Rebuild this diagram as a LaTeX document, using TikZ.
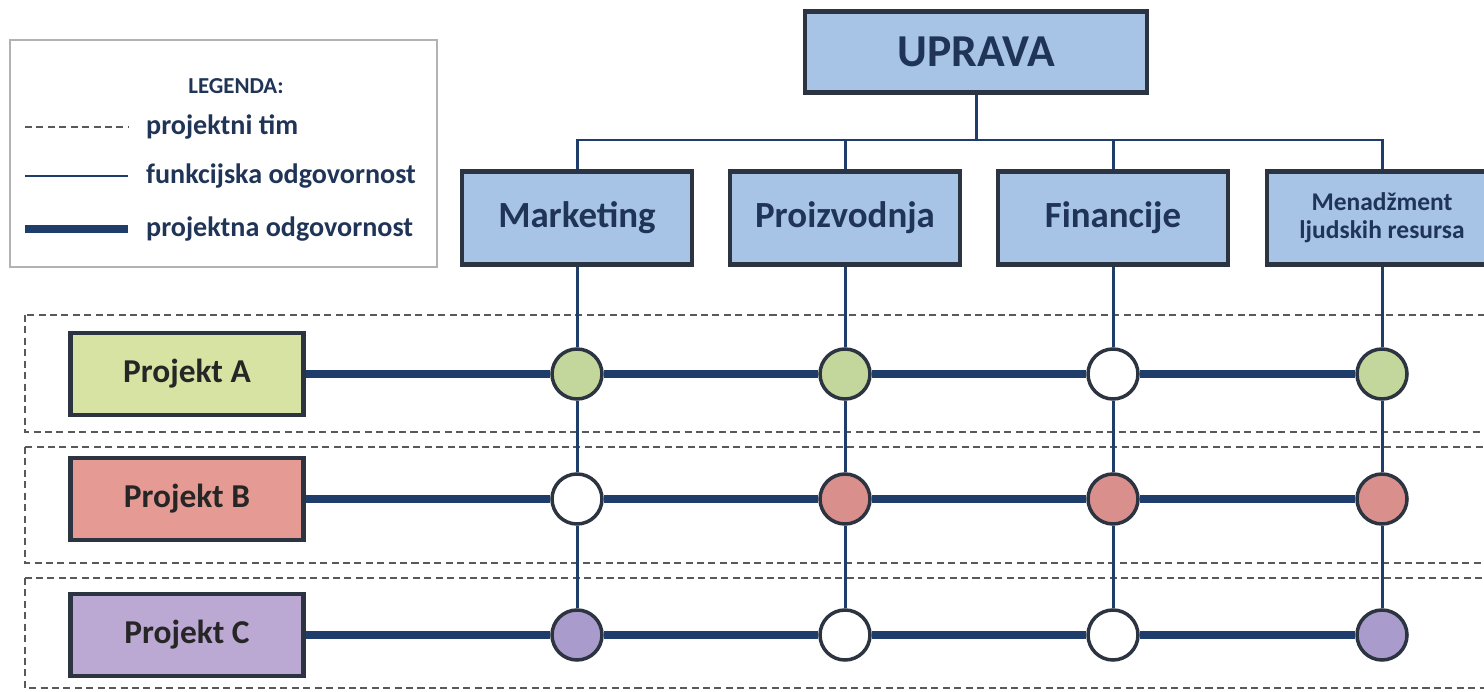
\documentclass[tikz,border=0pt]{standalone}
\usepackage{fontspec}
\setmainfont{Carlito}
\usetikzlibrary{positioning}

\definecolor{navy}{HTML}{1F3D6B}
\definecolor{boxblue}{HTML}{A7C3E6}
\definecolor{inkblue}{HTML}{1F3456}
\definecolor{edge}{HTML}{2B3440}
\definecolor{projA}{HTML}{D6E3A2}
\definecolor{projB}{HTML}{E59A94}
\definecolor{projC}{HTML}{BBA8D3}
\definecolor{dotA}{HTML}{C3D69B}
\definecolor{dotB}{HTML}{D98F8C}
\definecolor{dotC}{HTML}{A99BCB}

\begin{document}
\begin{tikzpicture}[x=0.02cm, y=-0.02cm]

    \tikzset{unit/.style={%
      draw=edge,%
      line width=2.4pt,%
      rectangle,%
      fill=boxblue,%
      text=inkblue,%
      font=\bfseries\fontsize{21}{23}\selectfont,%
      minimum width=4.6cm,%
      minimum height=1.86cm}%
    };

    \tikzset{project/.style={unit, minimum width=4.66cm, minimum height=1.64cm,
      text=black!85, font=\bfseries\fontsize{19}{21}\selectfont}};
    \tikzset{dot/.style={circle, draw=edge, line width=2pt, minimum size=1cm, inner sep=0pt}};
    \tikzset{func/.style={navy, line width=1.7pt}};
    \tikzset{proj/.style={navy, line width=4.5pt}};
    \tikzset{team/.style={black!65, dashed, line width=1pt, dash pattern=on 4pt off 2.5pt}};
    \tikzset{legtext/.style={anchor=west, text=inkblue, font=\bfseries\fontsize{16}{18}\selectfont}};

    \useasboundingbox (0,0) rectangle (1484,692);

    %%%%%%%%%%%%%%%
    %   legend    %
    %%%%%%%%%%%%%%%
    \draw[black!30, line width=1pt] (10,40) rectangle (437,267);
    \node[text=inkblue, font=\bfseries\fontsize{13}{15}\selectfont] (leg) at (236,86) {LEGENDA:};
    \coordinate (l1a) at (25,127);  \coordinate (l1b) at (128,127);
    \coordinate (l2a) at (25,176);  \coordinate (l2b) at (128,176);
    \coordinate (l3a) at (25,229);  \coordinate (l3b) at (128,229);
    \draw[team] (l1a) -- (l1b);
    \draw[func] (l2a) -- (l2b);
    \draw[proj] (l3a) -- (l3b);
    \node[legtext] (lt1) at (140,127) {projektni tim};
    \node[legtext] (lt2) at (140,176) {funkcijska odgovornost};
    \node[legtext] (lt3) at (140,229) {projektna odgovornost};

    %%%%%%%%%%%%%%%
    %   teams     %
    %%%%%%%%%%%%%%%
    \draw[team] (25,315) rectangle (1500,432);
    \draw[team] (25,447) rectangle (1500,563);
    \draw[team] (25,578) rectangle (1500,688);

    %%%%%%%%%%%%%%%
    %  structure  %
    %%%%%%%%%%%%%%%
    \node[unit, minimum width=6.84cm, minimum height=1.62cm,
      font=\bfseries\fontsize{26}{28}\selectfont] (uprava) at (976,52) {UPRAVA};
    \node[unit] (mkt) at (577,218) {Marketing};
    \node[unit] (pro) at (845,218) {Proizvodnja};
    \node[unit] (fin) at (1113,218) {Financije};
    \node[unit, align=center, font=\bfseries\fontsize{14.5}{16}\selectfont] (hr) at (1382,218) {Menadžment\\ljudskih resursa};
    \coordinate (bus) at (976,140);

    \draw[func] (uprava) -- (bus);
    \draw[func] (mkt.north) -- (mkt.north |- bus) -- (hr.north |- bus) -- (hr.north);
    \draw[func] (pro.north) -- (pro.north |- bus);
    \draw[func] (fin.north) -- (fin.north |- bus);

    \node[project, fill=projA] (pa) at (187,374) {Projekt A};
    \node[project, fill=projB] (pb) at (187,499) {Projekt B};
    \node[project, fill=projC] (pc) at (187,635) {Projekt C};

    %%%%%%%%%%%%%%%
    %  crossings  %
    %%%%%%%%%%%%%%%
    \node[dot, fill=dotA]  (a1) at (577,374) {};
    \node[dot, fill=dotA]  (a2) at (845,374) {};
    \node[dot, fill=white] (a3) at (1113,374) {};
    \node[dot, fill=dotA]  (a4) at (1382,374) {};
    \node[dot, fill=white] (b1) at (577,499) {};
    \node[dot, fill=dotB]  (b2) at (845,499) {};
    \node[dot, fill=dotB]  (b3) at (1113,499) {};
    \node[dot, fill=dotB]  (b4) at (1382,499) {};
    \node[dot, fill=dotC]  (c1) at (577,635) {};
    \node[dot, fill=white] (c2) at (845,635) {};
    \node[dot, fill=white] (c3) at (1113,635) {};
    \node[dot, fill=dotC]  (c4) at (1382,635) {};

    \draw[func] (mkt) -- (a1) -- (b1) -- (c1);
    \draw[func] (pro) -- (a2) -- (b2) -- (c2);
    \draw[func] (fin) -- (a3) -- (b3) -- (c3);
    \draw[func] (hr) -- (a4) -- (b4) -- (c4);

    \draw[proj] (pa) -- (a1) -- (a2) -- (a3) -- (a4);
    \draw[proj] (pb) -- (b1) -- (b2) -- (b3) -- (b4);
    \draw[proj] (pc) -- (c1) -- (c2) -- (c3) -- (c4);

  \end{tikzpicture}
\end{document}
